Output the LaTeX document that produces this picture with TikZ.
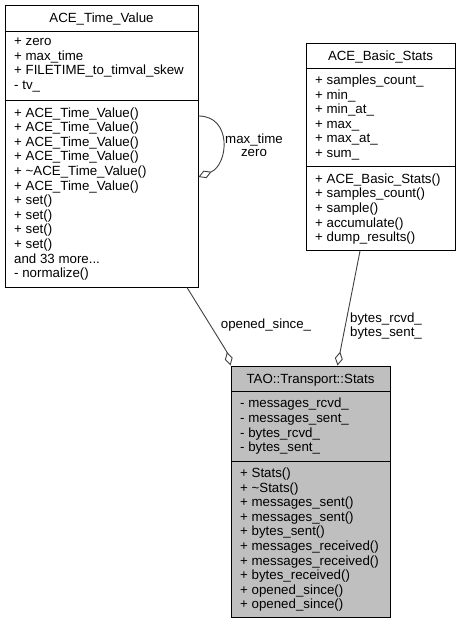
\documentclass[tikz,border=0pt]{standalone}
\usepackage{fontspec}
\setmainfont{Liberation Sans}
\usetikzlibrary{arrows.meta,fit}
\definecolor{edgegray}{RGB}{64,64,64}
\definecolor{boxgray}{RGB}{191,191,191}
\newcommand{\memberfont}{\fontsize{13.3}{14.6}\selectfont}
\newcommand{\labelfont}{\fontsize{13.3}{13.5}\selectfont}
\tikzset{
	classbox/.style={draw, line width=1pt, inner sep=0pt},
	sepline/.style={line width=1pt},
	ctitle/.style={anchor=base, font=\memberfont, inner sep=0pt},
	members/.style={anchor=north west, align=left, font=\memberfont, inner xsep=9pt, inner ysep=6.6pt, execute at begin node=\strut},
	lbl/.style={align=center, font=\labelfont, inner sep=0pt},
	aggr/.style={draw=edgegray, line width=0.9pt, -{Diamond[open, length=14pt, width=8pt]}}
}

\begin{document}
\begin{tikzpicture}[x=1pt,y=-1pt]
		\useasboundingbox (0,0) rectangle (460,624);
		% ACE_Time_Value
		\node[classbox, fit={(5,5) (198,287)}] (tv) {};
		\draw[sepline] (5,31) -- (198,31);
		\draw[sepline] (5,100.6) -- (198,100.6);
		\node[ctitle] (tvtitle) at (101.5,22.8) {ACE\_Time\_Value};
		\node[members] (tvattr) at (5,31) {+ zero\\+ max\_time\\+ FILETIME\_to\_timval\_skew\\- tv\_};
		\node[members] (tvmeth) at (5,100.6) {+ ACE\_Time\_Value()\\+ ACE\_Time\_Value()\\+ ACE\_Time\_Value()\\+ ACE\_Time\_Value()\\+ \textasciitilde ACE\_Time\_Value()\\+ ACE\_Time\_Value()\\+ set()\\+ set()\\+ set()\\+ set()\\and 33 more...\\- normalize()};
		% ACE_Basic_Stats
		\node[classbox, fit={(306,43) (455,250.5)}] (bs) {};
		\draw[sepline] (306,68) -- (455,68);
		\draw[sepline] (306,166.8) -- (455,166.8);
		\node[ctitle] (bstitle) at (380.5,60.3) {ACE\_Basic\_Stats};
		\node[members] (bsattr) at (306,68) {+ samples\_count\_\\+ min\_\\+ min\_at\_\\+ max\_\\+ max\_at\_\\+ sum\_};
		\node[members] (bsmeth) at (306,166.8) {+ ACE\_Basic\_Stats()\\+ samples\_count()\\+ sample()\\+ accumulate()\\+ dump\_results()};
		% TAO::Transport::Stats
		\node[classbox, fill=boxgray, fit={(231,366) (390,617.4)}] (st) {};
		\draw[sepline] (231,391.5) -- (390,391.5);
		\draw[sepline] (231,461) -- (390,461);
		\node[ctitle] (sttitle) at (310.5,383) {TAO::Transport::Stats};
		\node[members] (stattr) at (231,391.5) {- messages\_rcvd\_\\- messages\_sent\_\\- bytes\_rcvd\_\\- bytes\_sent\_};
		\node[members] (stmeth) at (231,461) {+ Stats()\\+ \textasciitilde Stats()\\+ messages\_sent()\\+ messages\_sent()\\+ bytes\_sent()\\+ messages\_received()\\+ messages\_received()\\+ bytes\_received()\\+ opened\_since()\\+ opened\_since()};
		% aggregations
		\draw[aggr] ([yshift=30pt]tv.east) .. controls +(34,0) and +(30,-12) .. ([yshift=-31pt]tv.east);
		\draw[aggr] ([xshift=85.5pt]tv.south) .. controls (227,352) .. (st.north west);
		\draw[aggr] ([xshift=-20.5pt]bs.south) .. controls (340.5,350) .. ([xshift=27pt]st.north);
		\node[lbl] (looplbl) at (254,145) {max\_time\\zero};
		\node[lbl, anchor=base] (sincelbl) at (266,328) {opened\_since\_};
		\node[lbl] (byteslbl) at (386,326) {bytes\_rcvd\_\\bytes\_sent\_};
\end{tikzpicture}
\end{document}
